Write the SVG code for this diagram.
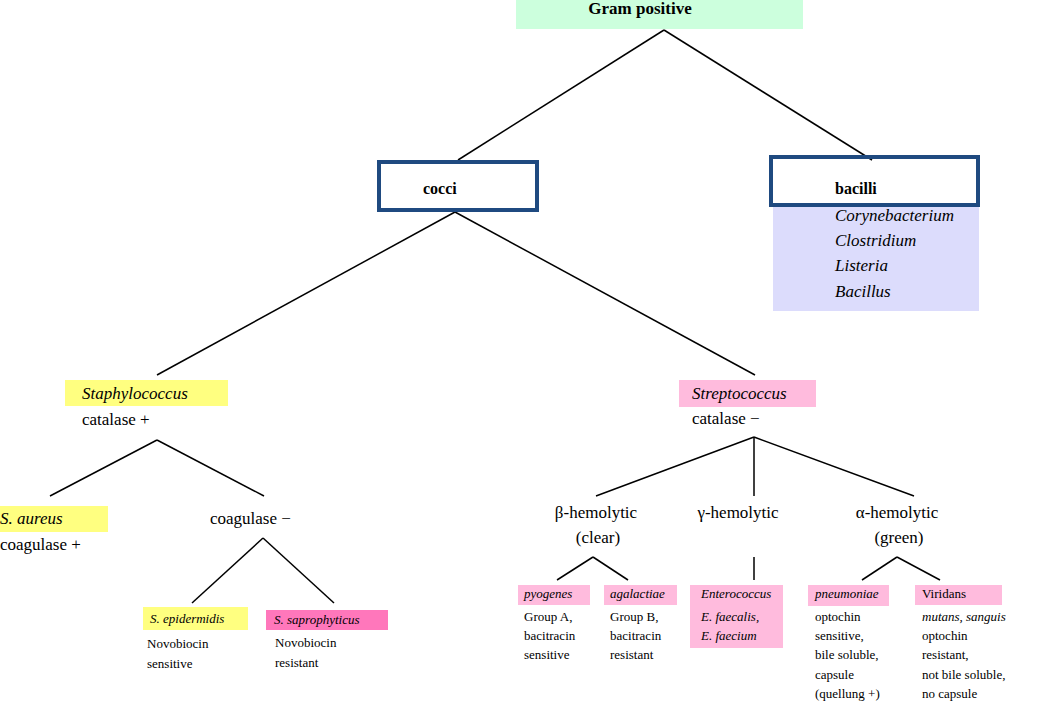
<svg xmlns="http://www.w3.org/2000/svg" width="1053" height="721" viewBox="0 0 1053 721">
<style>
text{font-family:"Liberation Serif","Times New Roman",serif;fill:#000}
.b{font-weight:bold;font-size:17px}
.m{font-size:17px}
.s{font-size:13px}
.i{font-style:italic}
.c{text-anchor:middle}
.blue{fill:none;stroke:#1f4a80;stroke-width:4}
.y{fill:#ffff80}
.p{fill:#ffbbdd}
#connectors line{stroke:#000;stroke-width:1.5}
</style>
<rect width="1053" height="721" fill="#fff"/>
<g id="connectors">
<line x1="664" y1="30" x2="458" y2="160"/>
<line x1="664" y1="30" x2="872" y2="160"/>
<line x1="455" y1="212" x2="157" y2="375"/>
<line x1="455" y1="212" x2="755" y2="375"/>
<line x1="157" y1="440" x2="50" y2="496"/>
<line x1="157" y1="440" x2="264" y2="496"/>
<line x1="263" y1="538" x2="192" y2="603"/>
<line x1="263" y1="538" x2="334" y2="603"/>
<line x1="754" y1="437" x2="596" y2="496"/>
<line x1="754" y1="437" x2="754" y2="496"/>
<line x1="754" y1="437" x2="914" y2="496"/>
<line x1="593" y1="557" x2="557" y2="580"/>
<line x1="593" y1="557" x2="628" y2="580"/>
<line x1="754" y1="557" x2="754" y2="580"/>
<line x1="897" y1="557" x2="862" y2="580"/>
<line x1="897" y1="557" x2="940" y2="580"/>
</g>
<g id="gram"><rect x="516" y="0" width="287" height="29" fill="#ccffdd"/><text class="b c" x="640" y="14">Gram positive</text></g>
<g id="cocci"><rect class="blue" x="379" y="162" width="158" height="48"/><text class="b" x="423" y="194" style="font-size:16px">cocci</text></g>
<g id="bacilli"><rect x="773" y="205" width="206" height="106" fill="#dcdcfc"/><rect class="blue" x="771" y="157" width="207" height="48"/><text class="b" x="835" y="194" style="font-size:16px">bacilli</text>
<text class="m i" x="835" y="221">Corynebacterium</text><text class="m i" x="835" y="246">Clostridium</text><text class="m i" x="835" y="271">Listeria</text><text class="m i" x="835" y="297">Bacillus</text></g>
<g id="staph"><rect class="y" x="65" y="380" width="163" height="26"/><text class="m i" x="82" y="399">Staphylococcus</text><text class="m" x="82" y="425">catalase +</text></g>
<g id="aureus"><rect class="y" x="0" y="506" width="108" height="26"/><text class="m i" x="0" y="524">S. aureus</text><text class="m" x="0" y="550">coagulase +</text></g>
<g id="coagneg"><text class="m" x="210" y="524">coagulase −</text></g>
<g id="epid"><rect class="y" x="143" y="607" width="105" height="23"/><text class="s i" x="150" y="623">S. epidermidis</text><text class="s" x="147" y="648">Novobiocin</text><text class="s" x="147" y="668">sensitive</text></g>
<g id="sapro"><rect x="266" y="610" width="122" height="20" fill="#ff77bb"/><text class="s i" x="274" y="624">S. saprophyticus</text><text class="s" x="275" y="647">Novobiocin</text><text class="s" x="275" y="667">resistant</text></g>
<g id="strep"><rect class="p" x="679" y="380" width="137" height="27"/><text class="m i" x="692" y="399">Streptococcus</text><text class="m" x="692" y="424">catalase −</text></g>
<g id="beta"><text class="m c" x="596" y="518">β-hemolytic</text><text class="m c" x="598" y="543">(clear)</text></g>
<g id="gamma"><text class="m c" x="738" y="518">γ-hemolytic</text></g>
<g id="alpha"><text class="m c" x="897" y="518">α-hemolytic</text><text class="m c" x="899" y="543">(green)</text></g>
<g id="pyo"><rect class="p" x="518" y="585" width="72" height="20"/><text class="s i" x="524" y="598">pyogenes</text><text class="s" x="524" y="621">Group A,</text><text class="s" x="524" y="640">bacitracin</text><text class="s" x="524" y="659">sensitive</text></g>
<g id="aga"><rect class="p" x="604" y="585" width="73" height="20"/><text class="s i" x="610" y="598">agalactiae</text><text class="s" x="610" y="621">Group B,</text><text class="s" x="610" y="640">bacitracin</text><text class="s" x="610" y="659">resistant</text></g>
<g id="entero"><rect class="p" x="690" y="585" width="93" height="63"/><text class="s i" x="701" y="598">Enterococcus</text><text class="s i" x="701" y="621">E. faecalis,</text><text class="s i" x="701" y="640">E. faecium</text></g>
<g id="pneu"><rect class="p" x="808" y="585" width="81" height="21"/><text class="s i" x="815" y="598">pneumoniae</text><text class="s" x="815" y="621">optochin</text><text class="s" x="815" y="640">sensitive,</text><text class="s" x="815" y="659">bile soluble,</text><text class="s" x="815" y="679">capsule</text><text class="s" x="815" y="698">(quellung +)</text></g>
<g id="viri"><rect class="p" x="915" y="585" width="87" height="20"/><text class="s" x="922" y="598">Viridans</text><text class="s i" x="922" y="621">mutans, sanguis</text><text class="s" x="922" y="640">optochin</text><text class="s" x="922" y="659">resistant,</text><text class="s" x="922" y="679">not bile soluble,</text><text class="s" x="922" y="698">no capsule</text></g>
</svg>
